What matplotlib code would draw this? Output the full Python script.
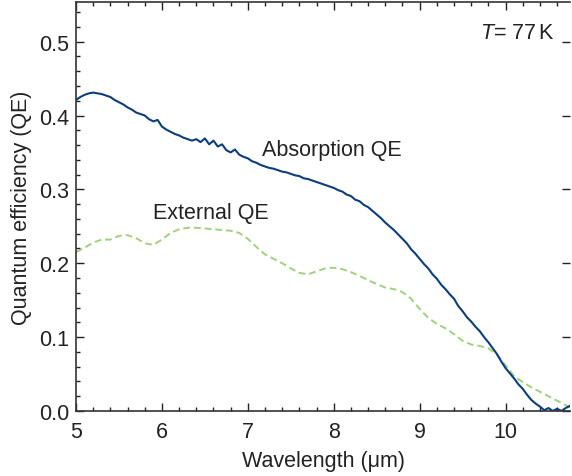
import matplotlib
matplotlib.use("Agg")
import matplotlib.pyplot as plt
from matplotlib.ticker import MultipleLocator

plt.rcParams['font.family'] = ['Liberation Sans', 'DejaVu Sans']
plt.rcParams['mathtext.fontset'] = 'custom'
plt.rcParams['mathtext.rm'] = 'Liberation Sans'
plt.rcParams['mathtext.it'] = 'Liberation Sans:italic'

FS = 15.5

# absorption QE, sampled every 0.05 um from 5.00 to 10.75
wl_abs = [5.00 + 0.05 * i for i in range(116)]
qe_abs = [
    0.421, 0.425, 0.428, 0.430, 0.431, 0.430, 0.429, 0.427, 0.425, 0.421,
    0.418, 0.415, 0.411, 0.408, 0.404, 0.402, 0.400, 0.395, 0.392, 0.394,
    0.385, 0.381, 0.378, 0.375, 0.373, 0.370, 0.368, 0.366, 0.368, 0.364,
    0.369, 0.361, 0.366, 0.358, 0.361, 0.353, 0.350, 0.354, 0.347, 0.344,
    0.342, 0.338, 0.336, 0.333, 0.331, 0.329, 0.328, 0.326, 0.324, 0.323,
    0.321, 0.319, 0.318, 0.315, 0.314, 0.312, 0.310, 0.308, 0.306, 0.304,
    0.302, 0.299, 0.297, 0.293, 0.291, 0.286, 0.284, 0.279, 0.276, 0.271,
    0.266, 0.261, 0.255, 0.250, 0.245, 0.239, 0.233, 0.227, 0.219, 0.213,
    0.206, 0.199, 0.193, 0.185, 0.179, 0.171, 0.165, 0.158, 0.152, 0.142,
    0.135, 0.127, 0.121, 0.114, 0.108, 0.100, 0.093, 0.085, 0.077, 0.067,
    0.058, 0.051, 0.044, 0.036, 0.030, 0.022, 0.015, 0.010, 0.006, 0.001,
    0.004, 0.000, 0.003, 0.000, 0.004, 0.007,
]

# external QE, every 0.1 um
wl_ext = [5.0 + 0.1 * i for i in range(58)] + [10.75]
qe_ext = [
    0.215, 0.221, 0.228, 0.232, 0.232, 0.237, 0.238, 0.234, 0.227, 0.225,
    0.232, 0.241, 0.246, 0.248, 0.248, 0.247, 0.246, 0.245, 0.244, 0.241,
    0.233, 0.222, 0.212, 0.206, 0.200, 0.193, 0.187, 0.185, 0.189, 0.193,
    0.194, 0.192, 0.188, 0.183, 0.177, 0.172, 0.167, 0.165, 0.161, 0.152,
    0.138, 0.126, 0.118, 0.112, 0.104, 0.095, 0.090, 0.088, 0.085, 0.076,
    0.062, 0.047, 0.039, 0.032, 0.026, 0.020, 0.014, 0.008, 0.005,
]

fig = plt.figure(figsize=(5.72, 4.77), dpi=100)
ax = fig.add_axes([0.1329, 0.1363, 0.8636, 0.8564])

ax.plot(wl_ext, qe_ext, color='#9fd27a', linewidth=1.4, dashes=(3.5, 2.0))
ax.plot(wl_abs, qe_abs, color='#0b3d80', linewidth=1.5)

ax.text(7.16, 0.354, 'Absorption QE', fontsize=FS, va='center', color='#222222')
ax.text(5.90, 0.269, 'External QE', fontsize=FS, va='center', color='#222222')
ax.text(10.57, 0.512, r'$T$= 77$\,$K', fontsize=FS, va='center', ha='right', color='#222222')

ax.set_xlim(5, 10.75)
ax.set_ylim(0, 0.553)
ax.xaxis.set_major_locator(MultipleLocator(1))
ax.xaxis.set_minor_locator(MultipleLocator(0.2))
ax.yaxis.set_major_locator(MultipleLocator(0.1))
ax.yaxis.set_minor_locator(MultipleLocator(0.02))
ax.yaxis.set_major_formatter(plt.FormatStrFormatter('%.1f'))

ax.tick_params(which='both', direction='in', top=True, right=False,
               labelsize=FS, colors='#222222', width=1.0)
ax.tick_params(which='major', right=True, length=6)
ax.tick_params(which='minor', length=3)
ax.tick_params(axis='x', pad=7)
ax.tick_params(axis='y', pad=5)
for s in ['left', 'bottom', 'top']:
    ax.spines[s].set_linewidth(1.2)
    ax.spines[s].set_color('#333333')
ax.spines['right'].set_visible(False)

ax.set_xlabel('Wavelength (\u03bcm)', fontsize=FS, color='#222222', labelpad=6)
ax.set_ylabel('Quantum efficiency (QE)', fontsize=FS, color='#222222', labelpad=5)

plt.savefig('out.png')
